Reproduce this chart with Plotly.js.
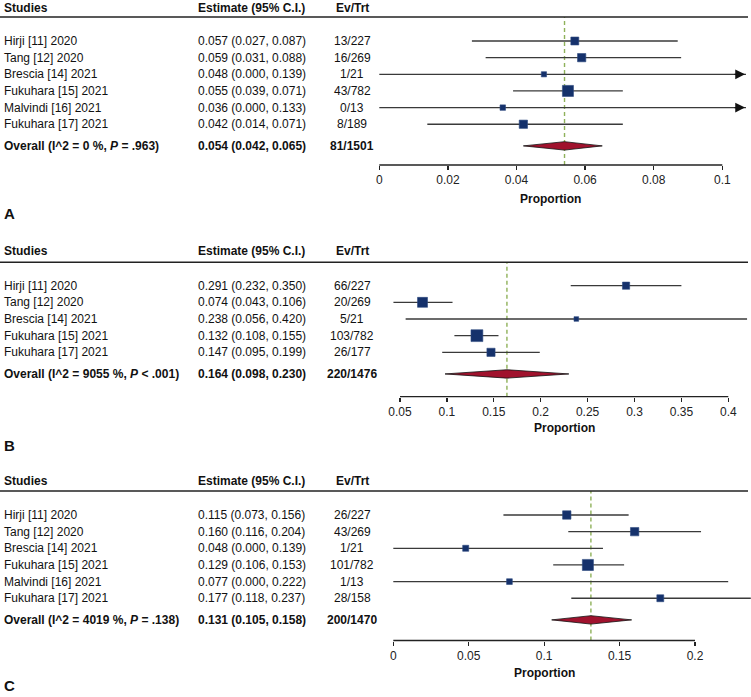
<!DOCTYPE html>
<html>
<head>
<meta charset="utf-8">
<script src="https://cdn.plot.ly/plotly-3.0.1.min.js"></script>
<style>html,body{margin:0;padding:0;background:#fff;}#chart{width:751px;height:697px;}</style>
</head>
<body>
<div id="chart"></div>
<script>
// ---------- Data ----------
const studiesA = ['Hirji [11] 2020','Tang [12] 2020','Brescia [14] 2021','Fukuhara [15] 2021','Malvindi [16] 2021','Fukuhara [17] 2021'];
const estA = [0.057, 0.059, 0.048, 0.055, 0.036, 0.042];
const loA  = [0.027, 0.031, 0.000, 0.039, 0.000, 0.014];
const hiA  = [0.087, 0.088, 0.139, 0.071, 0.133, 0.071];
const evA  = [13, 16, 1, 43, 0, 8];
const nA   = [227, 269, 21, 782, 13, 189];
const wA   = [16.7, 18.1, 7.1, 32.2, 7.9, 18.1];
const overallA = [0.054, 0.042, 0.065];
const totalsA  = [81, 1501];
const hetA     = ['0', '= .963'];
const ticksA   = [0, 0.02, 0.04, 0.06, 0.08, 0.1];

const studiesB = ['Hirji [11] 2020','Tang [12] 2020','Brescia [14] 2021','Fukuhara [15] 2021','Fukuhara [17] 2021'];
const estB = [0.291, 0.074, 0.238, 0.132, 0.147];
const loB  = [0.232, 0.043, 0.056, 0.108, 0.095];
const hiB  = [0.350, 0.106, 0.420, 0.155, 0.199];
const evB  = [66, 20, 5, 103, 26];
const nB   = [227, 269, 21, 782, 177];
const wB   = [13.6, 26.2, 5.7, 37.0, 17.5];
const overallB = [0.164, 0.098, 0.230];
const totalsB  = [220, 1476];
const hetB     = ['9055', '&lt; .001'];
const ticksB   = [0.05, 0.1, 0.15, 0.2, 0.25, 0.3, 0.35, 0.4];

const studiesC = ['Hirji [11] 2020','Tang [12] 2020','Brescia [14] 2021','Fukuhara [15] 2021','Malvindi [16] 2021','Fukuhara [17] 2021'];
const estC = [0.115, 0.160, 0.048, 0.129, 0.077, 0.177];
const loC  = [0.073, 0.116, 0.000, 0.106, 0.000, 0.118];
const hiC  = [0.156, 0.204, 0.139, 0.153, 0.222, 0.237];
const evC  = [26, 43, 1, 101, 1, 28];
const nC   = [227, 269, 21, 782, 13, 158];
const wC   = [18.4, 18.4, 9.6, 32.3, 8.6, 12.6];
const overallC = [0.131, 0.105, 0.158];
const totalsC  = [200, 1470];
const hetC     = ['4019', '= .138'];
const ticksC   = [0, 0.05, 0.1, 0.15, 0.2];

// ---------- Layout geometry (pixels) ----------
const W = 751, H = 697;
const FONT = 'Liberation Sans, Arial, Helvetica, sans-serif';
const ROW = 16.65, OVGAP = 1.3;
const NAVY = '#15316b', RED = '#a0122d', GREEN = '#8fb15a', LINE = '#3a3a3a';

const panels = [
  {letter:'A', studies:studiesA, est:estA, lo:loA, hi:hiA, ev:evA, n:nA, w:wA, ov:overallA, tot:totalsA, het:hetA, ticks:ticksA,
   hdrText:8, hdrLine:17, row0:41, axisLine:165, titleY:199, letterY:214, pxRef:[379.3, 722.3], left:375, right:746, arrowTip:745},
  {letter:'B', studies:studiesB, est:estB, lo:loB, hi:hiB, ev:evB, n:nB, w:wB, ov:overallB, tot:totalsB, het:hetB, ticks:ticksB,
   hdrText:251, hdrLine:262.3, row0:285.7, axisLine:396.7, titleY:427.7, letterY:445, pxRef:[400, 728.3], left:375, right:751, arrowTip:749},
  {letter:'C', studies:studiesC, est:estC, lo:loC, hi:hiC, ev:evC, n:nC, w:wC, ov:overallC, tot:totalsC, het:hetC, ticks:ticksC,
   hdrText:481, hdrLine:491, row0:515, axisLine:640.5, titleY:673, letterY:685, pxRef:[393.3, 695], left:375, right:751, arrowTip:751}
];

const traces = [], annotations = [], shapes = [];
const layout = {
  width: W, height: H, margin: {l:0, r:0, t:0, b:0},
  paper_bgcolor: '#fff', plot_bgcolor: 'rgba(0,0,0,0)',
  showlegend: false, font: {family: FONT, size: 12, color: '#111'}
};

const py = px => 1 - px / H;
const pxx = px => px / W;

panels.forEach((p, k) => {
  const sfx = k === 0 ? '' : String(k + 1);
  const xa = 'x' + sfx, ya = 'y' + sfx;
  const t0 = p.ticks[0], t1 = p.ticks[p.ticks.length - 1];
  const scale = (t1 - t0) / (p.pxRef[1] - p.pxRef[0]); // value per px
  const val = px => t0 + (px - p.pxRef[0]) * scale;
  const rows = p.studies.map((_, i) => i);
  const ovRow = p.studies.length - 1 + OVGAP;

  layout['xaxis' + sfx] = {
    domain: [pxx(p.left), pxx(p.right)], range: [val(p.left), val(p.right)], anchor: ya,
    showgrid: false, zeroline: false, showline: false,
    ticks: 'outside', ticklen: 4, tickwidth: 1.2, tickcolor: '#222',
    tickmode: 'array', tickvals: p.ticks, tickfont: {family: FONT, size: 12, color: '#222'},
    fixedrange: true
  };
  layout['yaxis' + sfx] = {
    domain: [py(p.axisLine), py(p.hdrLine)],
    range: [(p.axisLine - p.row0) / ROW, (p.hdrLine - p.row0) / ROW],
    visible: false, fixedrange: true, anchor: xa
  };

  // CI lines
  const lx = [], ly = [];
  rows.forEach(i => { lx.push(p.lo[i], p.hi[i], null); ly.push(i, i, null); });
  traces.push({type: 'scatter', mode: 'lines', x: lx, y: ly, xaxis: xa, yaxis: ya,
    line: {color: LINE, width: 1.3}, hoverinfo: 'skip'});

  // arrows where the CI runs past the visible axis
  rows.forEach(i => {
    if (p.hi[i] > val(p.right)) {
      annotations.push({x: val(p.arrowTip), y: i, xref: xa, yref: ya,
        ax: val(p.arrowTip - 12), ay: i, axref: xa, ayref: ya, text: '',
        showarrow: true, arrowhead: 2, arrowsize: 1.5, arrowwidth: 1.3, arrowcolor: '#111', standoff: 0});
    }
  });

  // study squares
  traces.push({type: 'scatter', mode: 'markers', x: p.est, y: rows, xaxis: xa, yaxis: ya,
    marker: {symbol: 'square', color: NAVY, opacity: 1, size: p.w.map(v => 1.95 * Math.sqrt(v)), line: {color: '#2d4a80', width: 0.6}},
    hoverinfo: 'skip'});

  // overall diamond
  const hh = 4.2 / ROW;
  const [oe, ol, oh] = p.ov;
  traces.push({type: 'scatter', mode: 'lines', x: [ol, oe, oh, oe, ol], y: [ovRow, ovRow - hh, ovRow, ovRow + hh, ovRow],
    xaxis: xa, yaxis: ya, fill: 'toself', fillcolor: RED, line: {color: '#111', width: 0.8}, hoverinfo: 'skip'});

  // dashed reference line at the overall estimate
  shapes.push({type: 'line', xref: xa, yref: ya + ' domain', x0: oe, x1: oe, y0: 0, y1: 1, layer: 'below',
    line: {color: GREEN, width: 1.4, dash: '4px,3px'}});
  // axis line across tick range
  shapes.push({type: 'line', xref: xa, yref: ya + ' domain', x0: t0, x1: t1, y0: 0, y1: 0,
    line: {color: '#222', width: 1.3}});
  // header rule
  shapes.push({type: 'line', xref: 'paper', yref: 'paper', x0: 0, x1: pxx(748), y0: py(p.hdrLine), y1: py(p.hdrLine),
    line: {color: '#222', width: 1.6}});

  // header texts
  const hdr = (text, x, xanchor) => annotations.push({text: '<b>' + text + '</b>', x: pxx(x), y: py(p.hdrText),
    xref: 'paper', yref: 'paper', xanchor: xanchor, yanchor: 'middle', showarrow: false, font: {family: FONT, size: 12, color: '#111'}});
  hdr('Studies', 2, 'left');
  hdr('Estimate (95% C.I.)', 196, 'left');
  hdr('Ev/Trt', 352, 'center');

  // table rows
  const cell = (text, x, xanchor, y) => annotations.push({text: text, x: pxx(x), y: y, xref: 'paper', yref: ya,
    xanchor: xanchor, yanchor: 'middle', showarrow: false, font: {family: FONT, size: 12, color: '#111'}});
  rows.forEach(i => {
    cell(p.studies[i], 2, 'left', i);
    cell(`${p.est[i].toFixed(3)} (${p.lo[i].toFixed(3)}, ${p.hi[i].toFixed(3)})`, 196, 'left', i);
    cell(`${p.ev[i]}/${p.n[i]}`, 352, 'center', i);
  });
  cell(`<b>Overall (I^2 = ${p.het[0]} %, <i>P</i> ${p.het[1]})</b>`, 2, 'left', ovRow);
  cell(`<b>${oe.toFixed(3)} (${ol.toFixed(3)}, ${oh.toFixed(3)})</b>`, 196, 'left', ovRow);
  cell(`<b>${p.tot[0]}/${p.tot[1]}</b>`, 352, 'center', ovRow);

  // axis title
  annotations.push({text: '<b>Proportion</b>', x: (t0 + t1) / 2, y: py(p.titleY), xref: xa, yref: 'paper',
    xanchor: 'center', yanchor: 'middle', showarrow: false, font: {family: FONT, size: 12, color: '#111'}});
  // panel letter
  annotations.push({text: '<b>' + p.letter + '</b>', x: pxx(2), y: py(p.letterY), xref: 'paper', yref: 'paper',
    xanchor: 'left', yanchor: 'middle', showarrow: false, font: {family: FONT, size: 15, color: '#111'}});
});

layout.annotations = annotations;
layout.shapes = shapes;
Plotly.newPlot('chart', traces, layout, {displayModeBar: false, staticPlot: true});
</script>
</body>
</html>
